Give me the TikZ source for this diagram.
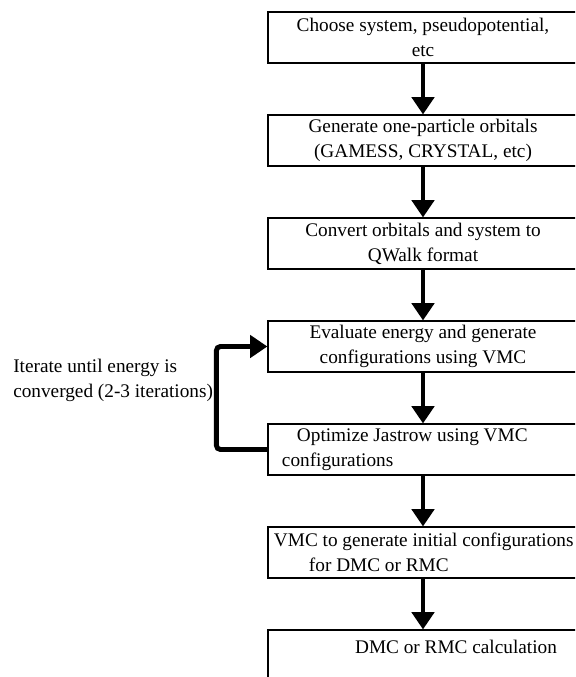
\documentclass[tikz,border=0pt]{standalone}
\usepackage{fontspec}
\setmainfont{Liberation Serif}
\usetikzlibrary{arrows.meta}

\begin{document}
\begin{tikzpicture}[x=0.025cm, y=-0.025cm,
		stepbox/.style={draw, fill=white, line width=0.8pt, minimum width=7.75cm, minimum height=1.275cm, inner sep=0pt, align=center, font=\fontsize{13.7}{17.8}\selectfont},
		flowarrow/.style={-{Triangle[length=0.43cm, width=0.55cm]}, line width=3.5pt}]
		\useasboundingbox (0,0) rectangle (575,677);
		\clip (0,0) rectangle (575,677);
		% Steps of a QWalk run
		\node[stepbox] (choose) at (423,37.5) {Choose system, pseudopotential,\\etc};
		\node[stepbox] (orbitals) at (423,140.5) {Generate one-particle orbitals\\(GAMESS, CRYSTAL, etc)};
		\node[stepbox] (convert) at (423,243.5) {Convert orbitals and system to\\QWalk format};
		\node[stepbox] (evaluate) at (423,346.5) {Evaluate energy and generate\\configurations using VMC};
		\node[stepbox, align=flush left, inner xsep=0.35cm, text width=7.05cm] (optimize) at (423,449.5) {\hspace*{0.375cm}Optimize Jastrow using VMC\\configurations};
		\node[stepbox, align=flush left, inner xsep=0.15cm, text width=7.45cm] (initial) at (423,552.5) {\mbox{VMC to generate initial configurations}\\\hspace*{0.875cm}for DMC or RMC};
		\node[stepbox, text depth=0.45cm] (dmc) at (423,655.5) {\hspace*{1.65cm}DMC or RMC calculation};
		
		\draw[flowarrow] (choose) -- (orbitals);
		\draw[flowarrow] (orbitals) -- (convert);
		\draw[flowarrow] (convert) -- (evaluate);
		\draw[flowarrow] (evaluate) -- (optimize);
		\draw[flowarrow] (optimize) -- (initial);
		\draw[flowarrow] (initial) -- (dmc);
		
		% loop back for the optimisation
		\draw[flowarrow, rounded corners=0.1cm] (optimize.west) -- ++(-51,0) |- (evaluate.west);
		\node[anchor=west, align=left, inner sep=0pt, font=\fontsize{13.7}{17.8}\selectfont] (iterate) at (13,380) {Iterate until energy is\\converged (2-3 iterations)};
	\end{tikzpicture}
\end{document}
